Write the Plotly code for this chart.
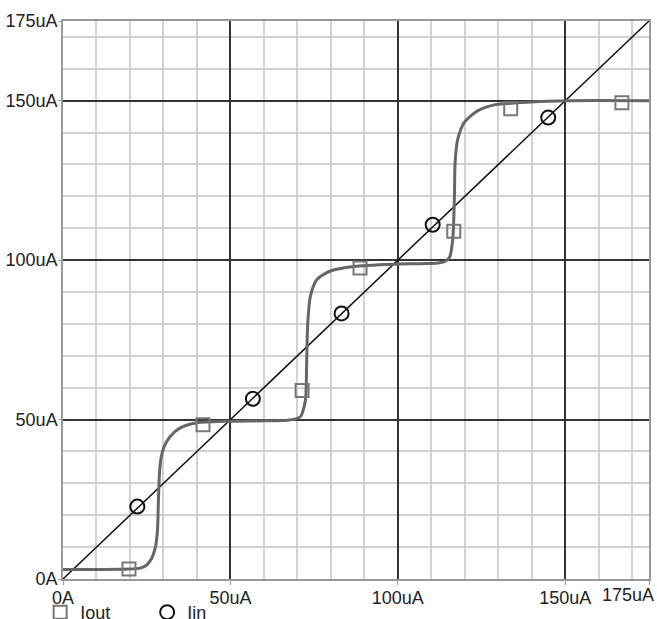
import plotly.graph_objects as go

# Iout curve
iout_x = [0, 10, 20, 23, 25, 26.5, 27.6, 28.2, 28.5, 28.8, 29.3, 30.2, 32, 35, 40, 50, 60, 67, 69.5, 71, 72, 72.5,
          72.8, 73.1, 73.9, 75.9, 79.9, 86.9, 98.9, 106.9, 112, 113.9, 115.4, 116.4, 116.9, 117.1,
          117.9, 119.9, 123.9, 128.8, 139.8, 150.8, 175]
iout_y = [3.0, 3.0, 3.1, 3.4, 4.4, 6.5, 10, 15, 24.8, 33, 38, 41.5, 44.7, 47.4, 49, 49.5, 49.6, 49.8, 50.2, 51, 54, 57,
          70, 80.4, 88.8, 94, 96.6, 98, 98.7, 98.9, 99.1, 99.5, 100.8, 106.6, 120.2, 130.7,
          138, 143.3, 146.9, 148.7, 149.6, 150, 150]
# Iout markers
sq_x = [19.7, 41.8, 71.4, 88.7, 116.7, 133.7, 166.9]
sq_y = [3.1, 48.4, 59.1, 97.5, 109.1, 147.5, 149.4]
# Iin line and markers
iin_x = [0, 175]
iin_y = [0, 175]
cir_x = [22.2, 56.7, 83.2, 110.4, 144.9]
cir_y = [22.7, 56.5, 83.3, 111.1, 144.7]

x_tickvals = [0, 50, 100, 150, 175]
x_ticktext = ["0A", "50uA", "100uA", "150uA", ""]
y_tickvals = [0, 50, 100, 150, 175]
y_ticktext = ["0A", "50uA", "100uA", "150uA", "175uA"]

fig = go.Figure()
fig.add_trace(go.Scatter(x=iin_x, y=iin_y, mode="lines",
                         line=dict(color="#111111", width=1.5), showlegend=False, hoverinfo="skip"))
fig.add_trace(go.Scatter(x=iout_x, y=iout_y, mode="lines",
                         line=dict(color="#666666", width=3, shape="spline", smoothing=0.7),
                         showlegend=False))
fig.add_trace(go.Scatter(x=sq_x, y=sq_y, mode="markers", name="Iout",
                         marker=dict(symbol="square-open", size=13, color="#777777",
                                     line=dict(width=2, color="#777777"))))
fig.add_trace(go.Scatter(x=cir_x, y=cir_y, mode="markers", name="Iin",
                         marker=dict(symbol="circle-open", size=14, color="#111111",
                                     line=dict(width=2, color="#111111"))))

font = dict(family="Liberation Sans, Arial, sans-serif", size=18, color="#222222")

common = dict(range=[0, 175], showgrid=True, gridcolor="#333333", gridwidth=1.5,
              zeroline=False, showline=True, mirror=True, linecolor="#999999", linewidth=1.5,
              tickcolor="#999999", tickfont=font,
              minor=dict(tick0=0, dtick=10, showgrid=True, gridcolor="#d2d2d2", gridwidth=1.5))

fig.update_layout(
    width=657, height=619,
    margin=dict(l=63, r=8, t=21, b=40, autoexpand=False),
    paper_bgcolor="white", plot_bgcolor="white",
    font=font,
    xaxis=dict(tickvals=x_tickvals, ticktext=x_ticktext, ticks="outside", ticklen=4,
               ticklabelstandoff=-2, **common),
    yaxis=dict(tickvals=y_tickvals, ticktext=y_ticktext, ticks="outside", ticklen=3,
               ticklabelstandoff=-3, **common),
    legend=dict(orientation="h", x=-0.039, xanchor="left", y=-0.06, yanchor="middle",
                font=font, entrywidth=62, bgcolor="rgba(0,0,0,0)"),
    annotations=[dict(text="175uA", x=175, y=0, xref="x", yref="paper", xanchor="right",
                      yanchor="top", xshift=7, yshift=-4, showarrow=False, font=font)],
)

fig.write_html("out.html", config={"displayModeBar": False},
               post_script="document.body.style.margin='0';")
